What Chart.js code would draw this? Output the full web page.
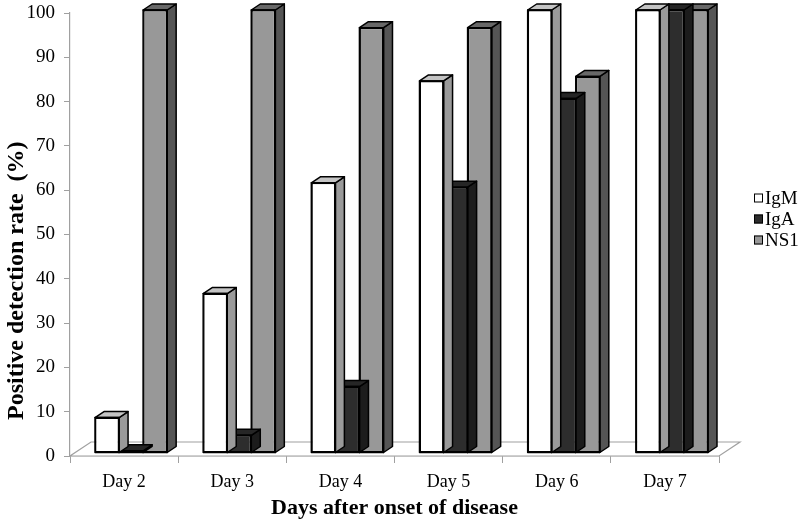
<!DOCTYPE html>
<html>
<head>
<meta charset="utf-8">
<script src="https://cdn.jsdelivr.net/npm/chart.js@4/dist/chart.umd.min.js"></script>
<style>
  html, body { margin: 0; padding: 0; background: #ffffff; }
  #wrap { width: 800px; height: 522px; }
</style>
</head>
<body>
<div id="wrap"><canvas id="c" width="800" height="522"></canvas></div>
<script>
const categories = ['Day 2', 'Day 3', 'Day 4', 'Day 5', 'Day 6', 'Day 7'];
const igmValues = [8, 36, 61, 84, 100, 100];
const igaValues = [0.5, 4, 15, 60, 80, 100];
const ns1Values = [100, 100, 96, 96, 85, 100];
const seriesNames = ['IgM', 'IgA', 'NS1'];
const yTicks = [0, 10, 20, 30, 40, 50, 60, 70, 80, 90, 100];

const frontColors = ['#ffffff', '#2d2d2d', '#989898'];
const sideColors = ['#9a9a9a', '#1c1c1c', '#555555'];
const topColors = ['#c4c4c4', '#262626', '#686868'];

const DX = 9, DY = -6;      // 3D depth offset
const SHIFT_X = 7, SHIFT_Y = -3;

const serif = "'Liberation Serif', 'Times New Roman', serif";

const threeD = {
  id: 'threeD',
  beforeDatasetsDraw(chart) {
    const ctx = chart.ctx;
    const a = chart.chartArea;
    ctx.save();
    ctx.beginPath();
    ctx.moveTo(a.left, a.bottom);
    ctx.lineTo(a.right, a.bottom);
    ctx.lineTo(a.right + 21, a.bottom - 14);
    ctx.lineTo(a.left + 21, a.bottom - 14);
    ctx.closePath();
    ctx.fillStyle = '#ffffff';
    ctx.fill();
    ctx.strokeStyle = '#a0a0a0';
    ctx.lineWidth = 1.2;
    ctx.stroke();
    ctx.restore();
  },
  beforeDatasetDraw(chart, args) {
    chart.ctx.save();
    chart.ctx.translate(SHIFT_X, SHIFT_Y);
  },
  afterDatasetDraw(chart, args) {
    const ctx = chart.ctx;
    const i = args.index;
    args.meta.data.forEach(bar => {
      const w = bar.width;
      const l = bar.x - w / 2, r = bar.x + w / 2;
      const t = bar.y, b = bar.base;
      ctx.lineWidth = 1.5;
      ctx.strokeStyle = '#000000';
      ctx.lineJoin = 'round';
      // side
      ctx.beginPath();
      ctx.moveTo(r, t);
      ctx.lineTo(r + DX, t + DY);
      ctx.lineTo(r + DX, b + DY);
      ctx.lineTo(r, b);
      ctx.closePath();
      ctx.fillStyle = sideColors[i];
      ctx.fill();
      ctx.stroke();
      // top
      ctx.beginPath();
      ctx.moveTo(l, t);
      ctx.lineTo(l + DX, t + DY);
      ctx.lineTo(r + DX, t + DY);
      ctx.lineTo(r, t);
      ctx.closePath();
      ctx.fillStyle = topColors[i];
      ctx.fill();
      ctx.stroke();
      ctx.strokeRect(l, t, w, b - t);
    });
    ctx.restore();
  }
};

const sideLegend = {
  id: 'sideLegend',
  afterDraw(chart) {
    const ctx = chart.ctx;
    ctx.save();
    ctx.font = '19px ' + serif;
    ctx.textBaseline = 'middle';
    ctx.textAlign = 'left';
    chart.data.datasets.forEach((ds, k) => {
      const y = 198 + k * 21;
      ctx.fillStyle = ds.backgroundColor;
      ctx.fillRect(754, y - 4.5, 9, 9);
      ctx.lineWidth = 1;
      ctx.strokeStyle = '#000';
      ctx.strokeRect(754.5, y - 4, 8, 8);
      ctx.fillStyle = '#000';
      ctx.fillText(ds.label, 765, y + 1);
    });
    ctx.restore();
  }
};

const datasets = [igmValues, igaValues, ns1Values].map((vals, k) => ({
  label: seriesNames[k],
  data: vals,
  backgroundColor: frontColors[k],
  borderColor: '#000000',
  borderWidth: 1.5,
  borderSkipped: false,
  categoryPercentage: 0.667,
  barPercentage: 1.0,
  clip: false
}));

new Chart(document.getElementById('c'), {
  type: 'bar',
  data: { labels: categories, datasets: datasets },
  options: {
    responsive: false,
    animation: false,
    devicePixelRatio: 1,
    layout: { padding: { top: 13, right: 81, left: 0, bottom: 0 } },
    plugins: {
      legend: { display: false },
      tooltip: { enabled: false }
    },
    scales: {
      x: {
        offset: true,
        grid: { display: true, drawOnChartArea: false, drawTicks: true, tickLength: 7, color: '#a0a0a0', offset: true },
        border: { display: true, color: '#a0a0a0', width: 1.2 },
        ticks: { color: '#000', font: { family: serif, size: 18 }, padding: 8 },
        title: {
          display: true,
          text: 'Days after onset of disease',
          color: '#000',
          font: { family: serif, size: 22, weight: 'bold' },
          padding: { top: 0, bottom: 0 }
        },
        afterFit(scale) { scale.height = 66; }
      },
      y: {
        min: 0,
        max: 100,
        afterBuildTicks(scale) { scale.ticks = yTicks.map(v => ({ value: v })); },
        grid: { display: true, drawOnChartArea: false, drawTicks: true, tickLength: 6, color: '#a0a0a0' },
        border: { display: true, color: '#a0a0a0', width: 1.2 },
        ticks: { color: '#000', font: { family: serif, size: 19 }, padding: 9 },
        title: {
          display: true,
          align: 'start',
          text: '      Positive detection rate  (%)',
          color: '#000',
          font: { family: serif, size: 24, weight: 'bold' },
          padding: { top: 2, bottom: 0 }
        },
        afterFit(scale) {
          scale.width = 70;
          scale.paddingTop = 0;
          scale.paddingBottom = 0;
        }
      }
    }
  },
  plugins: [threeD, sideLegend]
});
</script>
</body>
</html>
